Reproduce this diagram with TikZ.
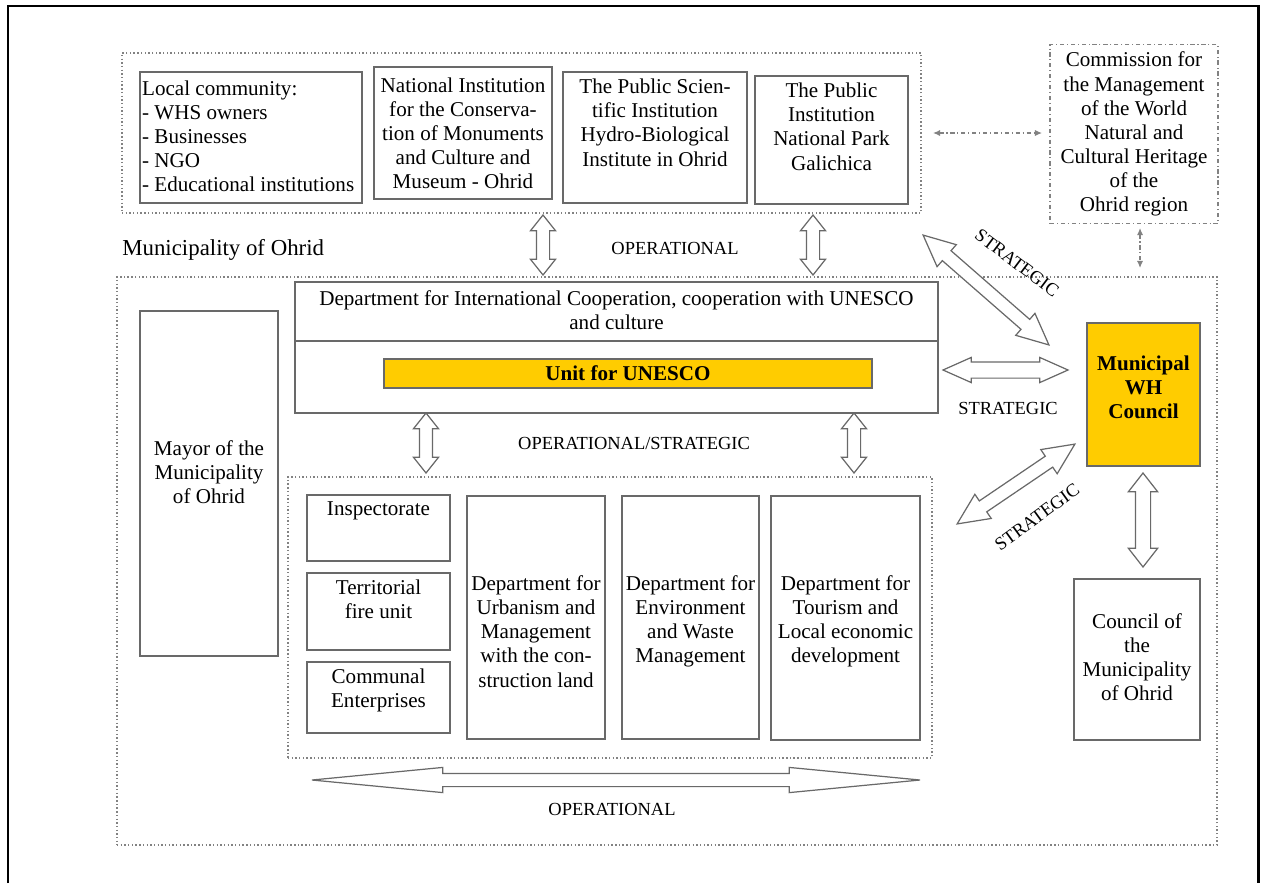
\documentclass[tikz,border=0pt]{standalone}
\usepackage{fontspec}
\setmainfont{Liberation Serif}
\usetikzlibrary{calc,shapes.arrows,arrows.meta}

\definecolor{boxgray}{RGB}{105,105,105}
\definecolor{dotgray}{RGB}{130,130,130}
\definecolor{unitgold}{RGB}{255,204,0}

\tikzset{
  dims/.style 2 args={minimum width=#1*0.02cm, minimum height=#2*0.02cm},
  box/.style={draw=boxgray, line width=0.9pt, inner sep=0pt},
  txt/.style={font=\fontsize{12}{13.7}\selectfont, align=center},
  gold/.style={box, fill=unitgold, txt, font=\fontsize{12}{13.7}\selectfont\bfseries},
  tag/.style={font=\fontsize{10.5}{12}\selectfont, inner sep=0pt},
  grp/.style={draw=dotgray, line width=0.8pt, dash pattern=on 0.8pt off 1.3pt, inner sep=0pt},
  link/.style={draw=dotgray, line width=0.7pt, dash pattern=on 2.4pt off 1.6pt on 0.6pt off 1.6pt,
    {Latex[length=4pt,width=3.5pt]}-{Latex[length=4pt,width=3.5pt]}},
  fat/.style={shape=double arrow, draw=boxgray, fill=white, line width=0.7pt, inner xsep=0pt,
    inner ysep=3.41pt, double arrow head extend=3.41pt, double arrow tip angle=77},
  toptext/.style={label={[txt, anchor=north, yshift=-1pt]north:{#1}}},
  midtext/.style 2 args={label={[txt, yshift=#2]center:{#1}}}
}

% hollow double arrow between two named points
\newcommand{\fatarrow}[3][]{%
  \path let \p1=(#2), \p2=(#3), \n1={atan2(\y2-\y1,\x2-\x1)},
    \n2={veclen(\x2-\x1,\y2-\y1)} in
    node[fat, #1, rotate=\n1, minimum height=\n2] (#2#3) at ($(\p1)!0.5!(\p2)$) {};}

\begin{document}
\begin{tikzpicture}[x=0.02cm, y=-0.02cm]
  \useasboundingbox (0,0) rectangle (1263,883);
  \draw[line width=1.7pt] (8,883) -- (8,6) -- (1258,6) -- (1258,883);

  % groups
  \node[grp, dims={799}{160}] (topgrp) at (521.5,133) {};
  \node[grp, dims={1100}{568}] (muni) at (667,561) {};
  \node[grp, dims={644}{281}] (lowgrp) at (610,617.5) {};
  \node[anchor=west, inner sep=0pt, font=\fontsize{13}{15}\selectfont] (munitxt) at (122,250) {Municipality of Ohrid};

  % partners
  \node[box, dims={222}{131}, label={[txt, align=left, anchor=north west, inner xsep=1.5pt, yshift=-2pt]north west:{Local community:\\- WHS owners\\- Businesses\\- NGO\\- Educational institutions}}] (lc) at (251,137.5) {};
  \node[box, dims={178}{132}, txt] (ni) at (463,133) {National Institution\\for the Conserva-\\tion of Monuments\\and Culture and\\Museum - Ohrid};
  \node[box, dims={184}{131}, toptext={The Public Scien-\\tific Institution\\Hydro-Biological\\Institute in Ohrid}] (ps) at (655,137.5) {};
  \node[box, dims={153}{128}, toptext={The Public\\Institution\\National Park\\Galichica}] (np) at (831.5,140) {};
  \node[box, dims={168}{179}, txt, draw=dotgray, line width=0.7pt, dash pattern=on 2.4pt off 1.6pt on 0.6pt off 1.6pt] (cm) at (1134,134) {Commission for\\the Management\\of the World\\Natural and\\Cultural Heritage\\of the\\Ohrid region};

  % municipality
  \node[box, dims={643}{131}] (dept) at (616.5,347.5) {};
  \draw[draw=boxgray, line width=0.9pt] (dept.west |- 0,341) -- (dept.east |- 0,341);
  \node[txt] (depttxt) at (616.5,310) {Department for International Cooperation, cooperation with UNESCO\\and culture};
  \node[gold, dims={488}{29}] (unit) at (628,373.5) {Unit for UNESCO};
  \node[gold, dims={113}{143}, label={[txt, font=\fontsize{12}{13.7}\selectfont\bfseries, yshift=4pt]center:{Municipal\\WH\\Council}}] (wh) at (1143.5,394.5) {};
  \node[box, dims={138}{345}, midtext={Mayor of the\\Municipality\\of Ohrid}{6.5pt}] (mayor) at (209,483.5) {};
  \node[box, dims={126}{161}, midtext={Council of\\the\\Municipality\\of Ohrid}{1.5pt}] (mc) at (1137,659.5) {};

  % departments
  \node[box, dims={143}{66}, toptext={Inspectorate}] (insp) at (378.5,528) {};
  \node[box, dims={143}{77}, toptext={Territorial\\fire unit}] (terr) at (378.5,611.5) {};
  \node[box, dims={143}{71}, toptext={Communal\\Enterprises}] (comm) at (378.5,697.5) {};
  \node[box, dims={138}{243}, midtext={Department for\\Urbanism and\\Management\\with the con-\\struction land}{-8pt}] (urb) at (536,617.5) {};
  \node[box, dims={137}{243}, midtext={Department for\\Environment\\and Waste\\Management}{-2pt}] (env) at (690.5,617.5) {};
  \node[box, dims={149}{244}, midtext={Department for\\Tourism and\\Local economic\\development}{-2pt}] (tour) at (845.5,618) {};

  % arrow ends
  \coordinate (a1) at (543,215);  \coordinate (a2) at (543,275);
  \coordinate (b1) at (813,215);  \coordinate (b2) at (813,275);
  \coordinate (c1) at (426,413);  \coordinate (c2) at (426,473);
  \coordinate (d1) at (854,413);  \coordinate (d2) at (854,473);
  \coordinate (e1) at (312,780);  \coordinate (e2) at (920,780);
  \coordinate (f1) at (923,235);  \coordinate (f2) at (1049,345);
  \coordinate (g1) at (943,370);  \coordinate (g2) at (1068,370);
  \coordinate (h1) at (957,524);  \coordinate (h2) at (1075,444);
  \coordinate (k1) at (1143,473); \coordinate (k2) at (1143,567);
  \coordinate (m1) at (933,133);  \coordinate (m2) at (1042,133);
  \coordinate (n1) at (1140,228); \coordinate (n2) at (1140,268);

  \fatarrow{a1}{a2}
  \fatarrow{b1}{b2}
  \fatarrow{c1}{c2}
  \fatarrow{d1}{d2}
  \fatarrow[double arrow tip angle=11]{e1}{e2}
  \fatarrow[double arrow head extend=4.55pt, double arrow tip angle=50]{f1}{f2}
  \fatarrow[inner ysep=4.27pt, double arrow head extend=2.56pt, double arrow tip angle=48]{g1}{g2}
  \fatarrow[double arrow head extend=4.55pt, double arrow tip angle=50]{h1}{h2}
  \fatarrow[inner ysep=3.98pt, double arrow head extend=3.98pt, double arrow tip angle=76]{k1}{k2}
  \draw[link] (m1) -- (m2);
  \draw[link] (n1) -- (n2);

  % labels
  \node[tag] (opTop) at (675,248) {OPERATIONAL};
  \node[tag] (opMid) at (634,443) {OPERATIONAL/STRATEGIC};
  \node[tag] (opBot) at (612,809) {OPERATIONAL};
  \node[tag] (stMid) at (1008,408) {STRATEGIC};
  \node[tag, rotate=-37] (stUp) at (1017,263) {STRATEGIC};
  \node[tag, rotate=36] (stLow) at (1037,517) {STRATEGIC};
\end{tikzpicture}
\end{document}
